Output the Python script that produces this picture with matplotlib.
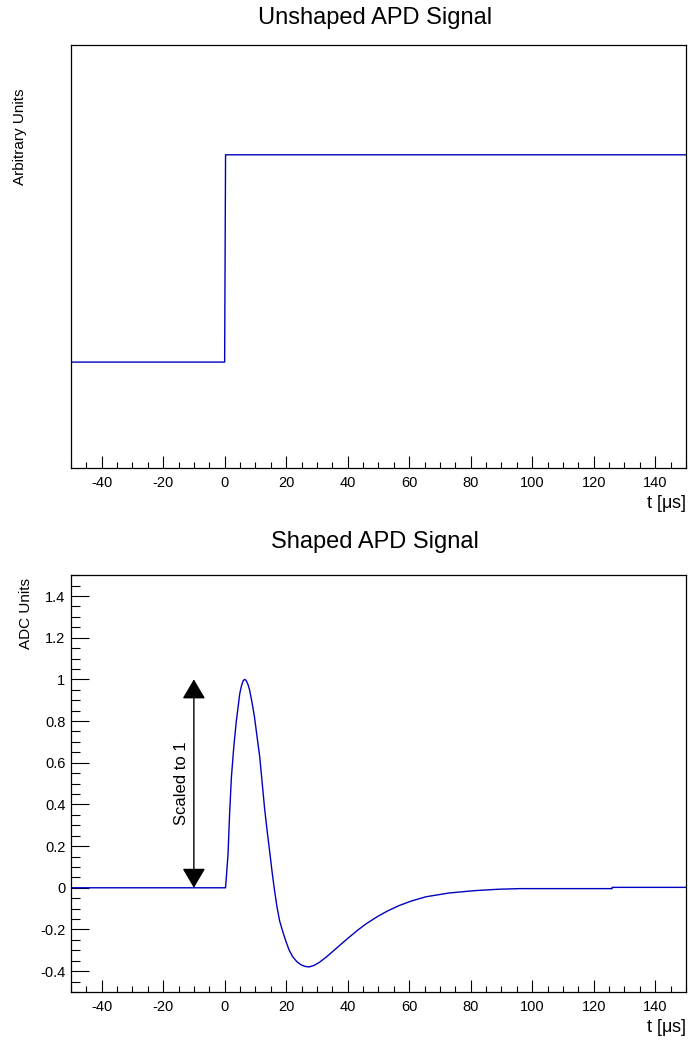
import numpy as np
import matplotlib
matplotlib.use('Agg')
import matplotlib.pyplot as plt
from matplotlib.ticker import MultipleLocator, FormatStrFormatter

plt.rcParams['font.family'] = ['Liberation Sans', 'DejaVu Sans']
plt.rcParams['axes.unicode_minus'] = False

# unshaped APD signal (step)
unshaped_t = [-50.0, 0.0, 0.3, 150.0]
unshaped_v = [0.0, 0.0, 0.98, 0.98]

# shaped APD signal
shaped_t = [-50.0, 0.0, 0.3, 1.1, 1.6, 2.2, 3.0, 3.8, 4.4, 4.9, 5.4, 6.0, 6.5,
            7.0, 7.6, 8.1, 8.9, 9.7, 10.5, 11.4, 12.2, 13.0, 13.8, 14.6, 15.4,
            16.2, 17.0, 17.9, 19.0, 20.0, 21.0, 22.1, 23.5, 24.9, 26.1, 27.4,
            29.0, 30.8, 33.0, 35.2, 37.9, 40.6, 43.3, 46.0, 49.7, 53.0, 56.8,
            60.6, 65.5, 73.0, 81.0, 89.0, 96.0, 126.0, 126.0, 150.0]
shaped_v = [0.0, 0.0, 0.0, 0.16, 0.35, 0.53, 0.68, 0.80, 0.87, 0.93, 0.965, 0.993, 1.0,
            0.995, 0.975, 0.95, 0.89, 0.82, 0.73, 0.63, 0.505, 0.38, 0.275, 0.18, 0.08,
            -0.01, -0.09, -0.16, -0.215, -0.26, -0.30, -0.33, -0.355, -0.37, -0.377, -0.38,
            -0.373, -0.358, -0.333, -0.305, -0.27, -0.236, -0.203, -0.173, -0.138, -0.111, -0.085,
            -0.064, -0.043, -0.025, -0.014, -0.007, -0.004, -0.004, 0.002, 0.002]

arrow_t = -10.0
arrow_span = (0.0, 1.0)

LINE_COLOR = '#0000c0'


def root_axes(ax, show_y=True):
  ax.set_xlim(-50, 150)
  ax.set_ylim(-0.5, 1.5)
  ax.xaxis.set_major_locator(MultipleLocator(20))
  ax.xaxis.set_minor_locator(MultipleLocator(5))
  ax.tick_params(axis='both', which='both', direction='in', top=False, right=False)
  ax.tick_params(axis='x', which='major', length=8.6, width=0.8, labelsize=10.5, pad=6)
  ax.tick_params(axis='x', which='minor', length=4.3, width=0.8)
  if show_y:
    ax.yaxis.set_major_locator(MultipleLocator(0.2))
    ax.yaxis.set_minor_locator(MultipleLocator(0.05))
    ax.yaxis.set_major_formatter(FormatStrFormatter('%g'))
    ax.tick_params(axis='y', which='major', length=13, width=0.8, labelsize=10.5, pad=4)
    ax.tick_params(axis='y', which='minor', length=6.5, width=0.8)
  else:
    ax.set_yticks([])
  for s in ax.spines.values():
    s.set_linewidth(0.9)
  ax.text(1.0, -0.085, r't [$\mathregular{\mu}$s]', transform=ax.transAxes,
          ha='right', va='center', fontsize=13)


fig = plt.figure(figsize=(6.88, 10.42), dpi=100)

ax1 = fig.add_axes([0.103, 0.551, 0.894, 0.406])
ax1.plot(unshaped_t, unshaped_v, color=LINE_COLOR, lw=1.0)
root_axes(ax1, show_y=False)
fig.text(0.545, 0.983, 'Unshaped APD Signal', ha='center', va='center', fontsize=17)
fig.text(0.029, 0.915, 'Arbitrary Units', rotation=90, ha='center', va='top', fontsize=11)

ax2 = fig.add_axes([0.103, 0.048, 0.894, 0.400])
ax2.plot(shaped_t, shaped_v, color=LINE_COLOR, lw=1.0)
root_axes(ax2, show_y=True)
ax2.annotate('', xy=(arrow_t, arrow_span[1]), xytext=(arrow_t, arrow_span[0]),
             arrowprops=dict(arrowstyle='<|-|>,head_length=1.22,head_width=0.72',
                             color='black', lw=1.0, shrinkA=0, shrinkB=0))
ax2.text(-14, 0.5, 'Scaled to 1', rotation=90, ha='center', va='center', fontsize=12)
fig.text(0.545, 0.480, 'Shaped APD Signal', ha='center', va='center', fontsize=17)
fig.text(0.038, 0.445, 'ADC Units', rotation=90, ha='center', va='top', fontsize=11)

fig.savefig('out.png', dpi=100)
